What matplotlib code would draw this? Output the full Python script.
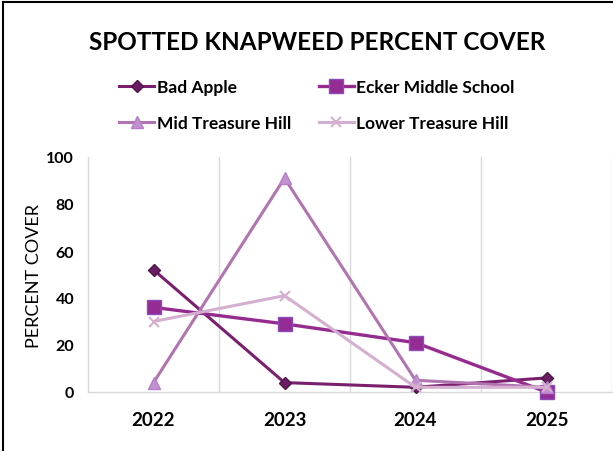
import matplotlib
matplotlib.use("Agg")
import matplotlib.pyplot as plt
from matplotlib.lines import Line2D

years = ["2022", "2023", "2024", "2025"]
series_names = ["Bad Apple", "Ecker Middle School", "Mid Treasure Hill", "Lower Treasure Hill"]
bad_apple = [52, 4, 2, 6]
ecker = [36, 29, 21, 0]
mid_treasure = [4, 91, 5, 2]
lower_treasure = [30, 41, 2, 2]
y_ticks = [0, 20, 40, 60, 80, 100]

plt.rcParams['font.family'] = ['Lato', 'DejaVu Sans']

fig = plt.figure(figsize=(6.13, 4.52), dpi=100)
ax = fig.add_axes([88/613, 1-393/452, (612-88)/613, (393-158)/452])

x = list(range(len(years)))
styles = [
    dict(color="#7a1f6e", marker="D", ms=6.5, mfc="#6a1d62", mec="#4e1548", lw=2.2),
    dict(color="#952a8f", marker="s", ms=9.5, mfc="#952c93", mec="#8a4cb8", lw=2.4),
    dict(color="#b274b0", marker="^", ms=8.5, mfc="#c291cf", mec="#b47fc8", lw=2.2),
    dict(color="#d4afcf", marker="x", ms=7, mfc="#d4afcf", mec="#d4afcf", mew=1.5, lw=2.2),
]
data = [bad_apple, ecker, mid_treasure, lower_treasure]
handles = []
for name, vals, st in zip(series_names, data, styles):
    h, = ax.plot(x, vals, label=name, clip_on=False, zorder=3, **st)
    handles.append(h)

ax.set_xlim(-0.5, 3.5)
ax.set_ylim(0, 100)
ax.set_yticks(y_ticks)
ax.set_yticklabels([str(v) for v in y_ticks], fontsize=11.5, fontweight="bold")
ax.set_xticks(x)
ax.set_xticklabels(years, fontsize=13.5, fontweight="bold")
ax.tick_params(axis="both", length=0)
ax.tick_params(axis="x", pad=14)
ax.tick_params(axis="y", pad=10)

for b in [0.5, 1.5, 2.5, 3.5]:
    ax.axvline(b, color="#d9d9d9", lw=1, zorder=1)
for s in ["top", "right"]:
    ax.spines[s].set_visible(False)
ax.spines["left"].set_color("#d9d9d9")
ax.spines["bottom"].set_color("#d9d9d9")
ax.spines["left"].set_linewidth(1)
ax.spines["bottom"].set_linewidth(1)

ax.set_ylabel("PERCENT COVER", fontsize=13, labelpad=3)

fig.text(317/613, 1-43/452, "SPOTTED KNAPWEED PERCENT COVER", ha="center", va="center",
         fontsize=17.5, fontweight="bold", color="#000000")

order = [0, 2, 1, 3]
leg = fig.legend(handles=[handles[i] for i in order], loc="center",
                 bbox_to_anchor=(317/613, 1-106/452), ncol=2,
                 frameon=False, fontsize=12.5, handlelength=2.0, handletextpad=0.15,
                 columnspacing=1.6, labelspacing=1.15)
for t in leg.get_texts():
    t.set_fontweight("bold")

fig.add_artist(Line2D([3/613, 3/613], [0, 1-3/452], color="black", lw=1.5))
fig.add_artist(Line2D([3/613, 1], [1-3/452, 1-3/452], color="black", lw=1.5))

fig.savefig("out.png", dpi=100)
